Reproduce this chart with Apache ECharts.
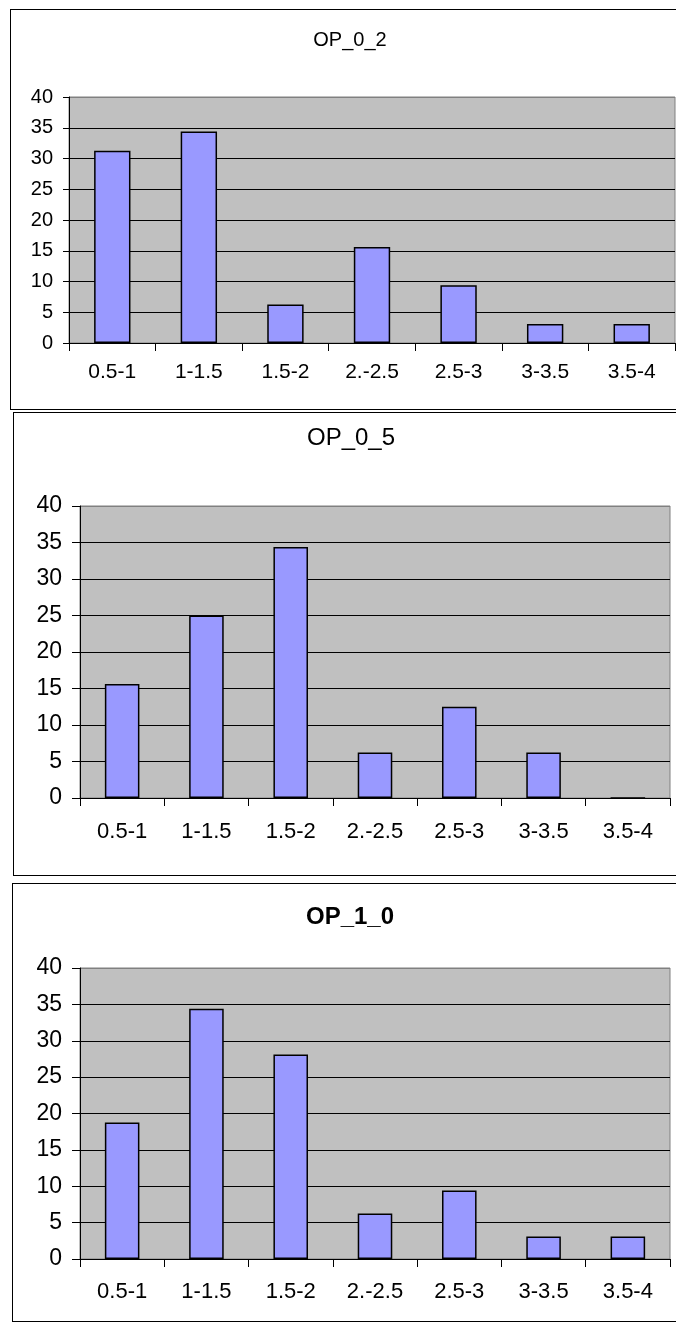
<!DOCTYPE html>
<html>
<head>
<meta charset="utf-8">
<script src="https://cdn.jsdelivr.net/npm/echarts@6/dist/echarts.min.js"></script>
<style>
  html,body{margin:0;padding:0;background:#fff;overflow:hidden;width:676px;height:1326px;}
  .box{position:absolute;border:1px solid #000;box-sizing:border-box;background:#fff;}
  #c1{left:10px;top:9px;width:680px;height:401px;}
  #c2{left:13px;top:412px;width:676px;height:464px;}
  #c3{left:12px;top:883px;width:676px;height:439px;}
</style>
</head>
<body>
<div id="c1" class="box"></div>
<div id="c2" class="box"></div>
<div id="c3" class="box"></div>
<script>
const cats = ["0.5-1","1-1.5","1.5-2","2.-2.5","2.5-3","3-3.5","3.5-4"];
const op02 = [31.25, 34.4, 6.25, 15.6, 9.4, 3.1, 3.1];
const op05 = [15.6, 25, 34.4, 6.25, 12.5, 6.25, 0];
const op10 = [18.75, 34.4, 28.1, 6.25, 9.4, 3.1, 3.1];
const yTicks = [0,5,10,15,20,25,30,35,40];

const FONT = "'Liberation Sans', Arial, sans-serif";

function bars(el, title, data, o){
  const c = echarts.init(el, null, {renderer:'canvas'});
  // last split line sits on the grey plot border
  const splitCols = yTicks.map((t,i)=> i===yTicks.length-1 ? '#808080' : '#000');
  c.setOption({
    animation:false,
    title:{text:title, left:'center', top:o.titleTop,
      textStyle:{fontFamily:FONT, fontSize:o.titleSize, fontWeight:o.bold?'bold':'normal', color:'#000', lineHeight:o.titleSize}},
    grid:{left:o.left, top:o.top, width:o.w, height:o.h, show:true,
      backgroundColor:'#C0C0C0', borderColor:'#808080', borderWidth:1},
    xAxis:{type:'category', data:cats,
      axisLine:{lineStyle:{color:'#000',width:1}},
      axisTick:{show:true, length:8, lineStyle:{color:'#000'}},
      axisLabel:{fontFamily:FONT, fontSize:o.xSize, color:'#000', margin:o.xMargin, interval:0}},
    yAxis:{type:'value', min:0, max:40, interval:5,
      axisLine:{show:true, lineStyle:{color:'#000',width:1}},
      axisTick:{show:true, length:o.yTick, lineStyle:{color:'#000'}},
      axisLabel:{fontFamily:FONT, fontSize:o.ySize, color:'#000', margin:o.yMargin},
      splitLine:{show:true, lineStyle:{color:splitCols, width:1}}},
    series:[{type:'bar', data:data, barWidth:o.barW,
      itemStyle:{color:'#9999FF', borderColor:'#000', borderWidth:1.5}}]
  });
  return c;
}

bars(document.getElementById('c1'), 'OP_0_2', op02,
  {titleTop:15, titleSize:20, bold:false, left:58, top:87, w:606, h:246,
   xSize:21, xMargin:19, ySize:20, yMargin:16, yTick:6, barW:'42%'});
bars(document.getElementById('c2'), 'OP_0_5', op05,
  {titleTop:8, titleSize:24, bold:false, left:66, top:93, w:590, h:292,
   xSize:22, xMargin:23, ySize:23, yMargin:18, yTick:8, barW:'41%'});
bars(document.getElementById('c3'), 'OP_1_0', op10,
  {titleTop:16, titleSize:24, bold:true, left:67, top:84, w:590, h:291,
   xSize:22, xMargin:22, ySize:23, yMargin:18, yTick:8, barW:'41%'});
</script>
</body>
</html>
